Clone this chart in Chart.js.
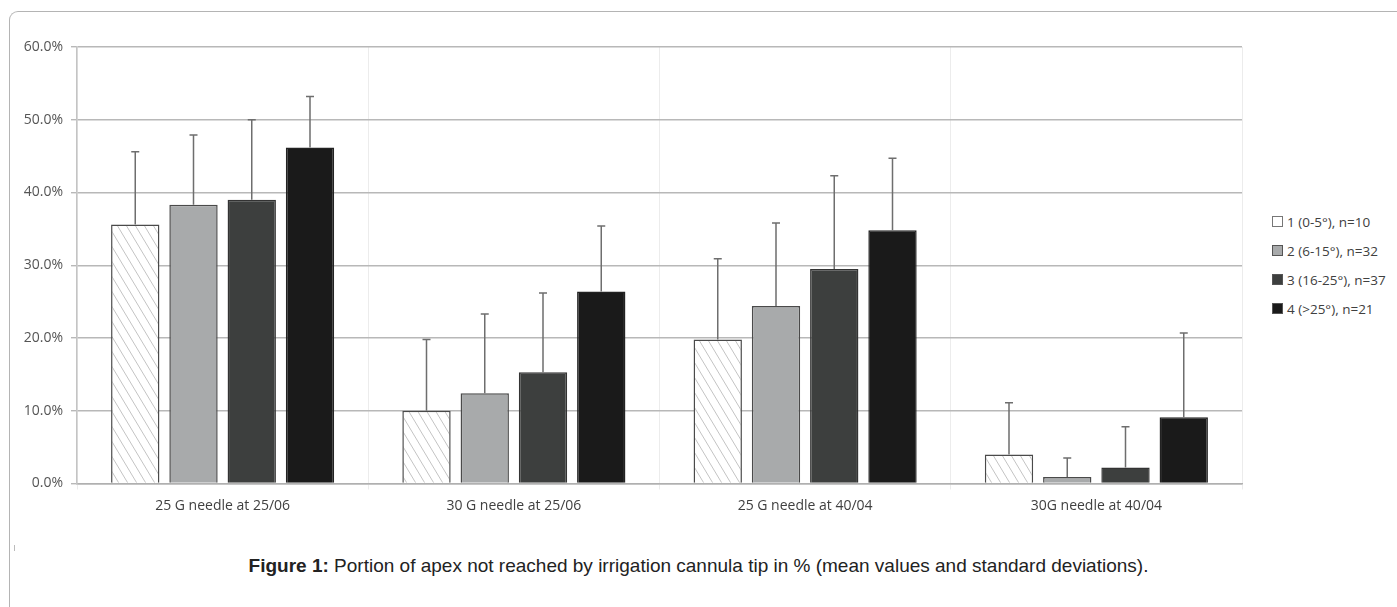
<!DOCTYPE html>
<html>
<head>
<meta charset="utf-8">
<script src="https://cdn.jsdelivr.net/npm/chart.js@4/dist/chart.umd.min.js"></script>
<style>
  html, body { margin: 0; padding: 0; background: #ffffff; }
  body { width: 1397px; height: 607px; position: relative; overflow: hidden; font-family: "Open Sans", sans-serif; }
  #frame { position: absolute; left: 9px; top: 11px; width: 1400px; height: 620px;
           border-top: 1px solid #b4b4b4; border-left: 1px solid #b4b4b4; border-top-left-radius: 9px; }
  #wrap { position: absolute; left: 0; top: 0; width: 1260px; height: 530px; }
  #legend { position: absolute; left: 1272px; top: 207px; font-family: "Open Sans", sans-serif;
            font-size: 13.5px; color: #404040; }
  .li { height: 29px; white-space: nowrap; display: flex; align-items: center; }
  .sw { width: 9px; height: 9px; border: 1px solid #555; margin-right: 4px; box-sizing: content-box; }
  #caption { position: absolute; left: 0; width: 1397px; top: 555px; text-align: center;
             font-family: "Liberation Sans", Arial, sans-serif; font-size: 19px; color: #222; }
  #mark { position: absolute; left: 14px; top: 545px; width: 1px; height: 6px; background: #bbb; }
</style>
</head>
<body>
<div id="frame"></div>
<div id="mark"></div>
<div id="wrap"><canvas id="c" width="1260" height="530"></canvas></div>
<div id="legend"></div>
<div id="caption"><b>Figure 1:</b> Portion of apex not reached by irrigation cannula tip in % (mean values and standard deviations).</div>
<script>
// ---- data ----
const categories = ["25 G needle at 25/06", "30 G needle at 25/06", "25 G needle at 40/04", "30G needle at 40/04"];
const seriesNames = ["1 (0-5°), n=10", "2 (6-15°), n=32", "3 (16-25°), n=37", "4 (>25°), n=21"];
const meanGroup1 = [35.6, 10.0, 19.8, 4.0];
const meanGroup2 = [38.3, 12.4, 24.4, 0.9];
const meanGroup3 = [39.0, 15.3, 29.5, 2.2];
const meanGroup4 = [46.2, 26.4, 34.8, 9.1];
const sdGroup1 = [10.0, 9.8, 11.1, 7.1];
const sdGroup2 = [9.6, 10.9, 11.4, 2.6];
const sdGroup3 = [11.0, 10.9, 12.8, 5.6];
const sdGroup4 = [7.0, 9.0, 9.9, 11.6];
const yTicks = [0, 10, 20, 30, 40, 50, 60];

const means = [meanGroup1, meanGroup2, meanGroup3, meanGroup4];
const sds = [sdGroup1, sdGroup2, sdGroup3, sdGroup4];

// ---- styles ----
function hatch() {
  const w = 9, h = 15;
  const p = document.createElement('canvas');
  p.width = w; p.height = h;
  const g = p.getContext('2d');
  g.fillStyle = '#ffffff';
  g.fillRect(0, 0, w, h);
  g.strokeStyle = '#c4c4c4';
  g.lineWidth = 1;
  g.beginPath();
  g.moveTo(-w, -h); g.lineTo(2 * w, 2 * h);
  g.moveTo(0, -h); g.lineTo(2 * w, h);
  g.moveTo(-w, 0); g.lineTo(w, 2 * h);
  g.stroke();
  return document.getElementById('c').getContext('2d').createPattern(p, 'repeat');
}
const fills = [hatch(), '#a8aaab', '#3d3f3e', '#1a1a1a'];
const legendFills = ['#ffffff', '#a8aaab', '#3d3f3e', '#1a1a1a'];
const borders = ['#4a4a4a', '#4a4a4a', '#333333', '#222222'];

const errorBars = {
  id: 'errorBars',
  afterDatasetsDraw(chart) {
    const ctx = chart.ctx, ys = chart.scales.y;
    ctx.save();
    ctx.strokeStyle = '#6e6e6e';
    ctx.lineWidth = 1.5;
    chart.data.datasets.forEach((ds, di) => {
      const meta = chart.getDatasetMeta(di);
      meta.data.forEach((bar, i) => {
        const top = ys.getPixelForValue(ds.data[i] + sds[di][i]);
        ctx.beginPath();
        ctx.moveTo(bar.x, bar.y);
        ctx.lineTo(bar.x, top);
        ctx.moveTo(bar.x - 4, top);
        ctx.lineTo(bar.x + 4, top);
        ctx.stroke();
      });
    });
    ctx.restore();
  }
};

new Chart(document.getElementById('c'), {
  type: 'bar',
  data: {
    labels: categories,
    datasets: seriesNames.map((n, i) => ({
      label: n,
      data: means[i],
      backgroundColor: fills[i],
      borderColor: borders[i],
      borderWidth: 1.5,
      categoryPercentage: 0.8,
      barPercentage: 0.83
    }))
  },
  options: {
    responsive: false,
    devicePixelRatio: 1,
    animation: false,
    layout: { padding: { left: 0, right: 18, top: 47, bottom: 0 } },
    plugins: { legend: { display: false }, tooltip: { enabled: false } },
    scales: {
      x: {
        afterFit(s) { s.height = 46.5; },
        grid: { color: '#ececec', lineWidth: 1, offset: true, tickLength: 6, drawTicks: true },
        border: { color: '#b0b0b0', width: 1.5 },
        ticks: { color: '#404040', font: { family: 'Open Sans', size: 14 }, padding: 8 }
      },
      y: {
        min: 0, max: 60,
        afterFit(s) { s.width = 77; },
        afterBuildTicks(s) { s.ticks = yTicks.map(v => ({ value: v })); },
        grid: { color: '#b8b8b8', lineWidth: 1.4, tickLength: 6 },
        border: { color: '#c4c4c4', width: 1.5 },
        ticks: { color: '#555555', font: { family: 'Open Sans', size: 14 }, padding: 8,
                 callback: v => v.toFixed(1) + '%' }
      }
    }
  },
  plugins: [errorBars]
});

// ---- legend ----
const lg = document.getElementById('legend');
seriesNames.forEach((n, i) => {
  const d = document.createElement('div');
  d.className = 'li';
  const sw = document.createElement('span');
  sw.className = 'sw';
  sw.style.background = legendFills[i];
  sw.style.borderColor = i === 0 ? '#777' : '#555';
  const t = document.createElement('span');
  t.textContent = n;
  d.appendChild(sw); d.appendChild(t);
  lg.appendChild(d);
});
</script>
</body>
</html>
